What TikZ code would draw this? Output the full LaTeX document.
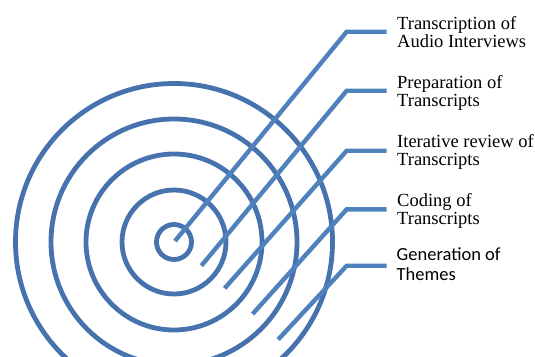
\documentclass[tikz,border=0pt]{standalone}
\usepackage{fontspec}
\setmainfont{Liberation Serif}
\newfontfamily\calfont{Carlito}
\definecolor{ringblue}{RGB}{70,114,174}
\definecolor{lineblue}{RGB}{79,129,189}
\begin{document}
\begin{tikzpicture}[x=1pt,y=-1pt,
  ring/.style={draw=ringblue,line width=4.8pt},
  leader/.style={draw=lineblue,line width=4.4pt,line join=miter,line cap=butt},
  lab/.style={anchor=base west,inner sep=0pt,font=\fontsize{18.5}{18}\selectfont},
  labsans/.style={anchor=base west,inner sep=0pt,font=\calfont\fontsize{18.5}{20}\selectfont}]
\useasboundingbox (0,0) rectangle (535,356);
\clip (0,0) rectangle (535,356);
\coordinate (c) at (174,242);
\foreach \r in {17.5,52,88,123,158.5}{
  \draw[ring] (c) circle[radius=\r pt];
}
% start points
\coordinate (s1) at (175,241);
\coordinate (s2) at (201.4,265.7);
\coordinate (s3) at (224.6,288.3);
\coordinate (s4) at (252.6,314);
\coordinate (s5) at (278.2,339.5);
% knees
\coordinate (k1) at (346.7,31.7);
\coordinate (k2) at (346.7,90.7);
\coordinate (k3) at (346.7,150.7);
\coordinate (k4) at (346.7,209.3);
\coordinate (k5) at (346.7,265.7);
% stub ends
\coordinate (e1) at (386.5,31.7);
\coordinate (e2) at (386.5,90.7);
\coordinate (e3) at (386.5,150.7);
\coordinate (e4) at (386.5,209.3);
\coordinate (e5) at (386.5,265.7);
\foreach \i in {1,...,5}{
  \draw[leader] (s\i) -- (k\i) -- (e\i);
}
\node[lab] (l1) at (397,29.5) {\vtop{\hbox{Transcription of}\hbox{Audio Interviews}}};
\node[lab] (l2) at (397,88.5) {\vtop{\hbox{Preparation of}\hbox{Transcripts}}};
\node[lab] (l3) at (397,147.5) {\vtop{\hbox{Iterative review of}\hbox{Transcripts}}};
\node[lab] (l4) at (397,206.5) {\vtop{\hbox{Coding of}\hbox{Transcripts}}};
\node[labsans] (l5) at (396.5,260.7) {\vtop{\hbox{Generation of}\hbox{Themes}}};
\end{tikzpicture}
\end{document}
